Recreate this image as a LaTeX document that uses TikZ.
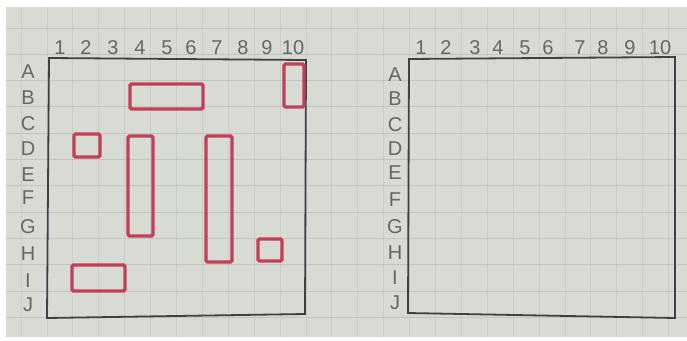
\documentclass[tikz,border=0pt]{standalone}
\usepackage{fontspec}
\setmainfont{Liberation Sans}
\definecolor{paper}{RGB}{216,218,212}
\definecolor{paperhline}{RGB}{194,196,191}
\definecolor{papervline}{RGB}{203,205,200}
\definecolor{ink}{RGB}{62,64,68}
\definecolor{shipred}{RGB}{196,62,86}
\tikzset{
  frameline/.style={draw=ink, line width=1.8pt},
  ship/.style={draw=shipred, line width=3.4pt, rounded corners=1.5pt},
  lab/.style={text=ink!80, font=\fontsize{20}{20}\selectfont, inner sep=0pt, anchor=center},
  hgrid/.style={draw=paperhline, line width=0.9pt},
  vgrid/.style={draw=papervline, line width=0.9pt}
}
\begin{document}
\begin{tikzpicture}[x=1pt,y=-1pt]
\useasboundingbox (0,0) rectangle (687,340);
\fill[white] (0,0) rectangle (687,340);
\fill[paper] (6,7) rectangle (687,337);
% paper grid
\begin{scope}
\clip (6,7) rectangle (687,337);
\foreach \k in {-2,...,25} {
  \draw[vgrid] ({47+25.9*\k},7) -- ({47+25.9*\k},337);
}
\foreach \k in {-1,...,12} {
  \draw[hgrid] (6,{28+26.3*\k}) -- (687,{28+26.3*\k});
}
\end{scope}
% left board frame
\draw[frameline] (49,58) -- (306,60) -- (305,314) -- (47,318) -- cycle;
% right board frame
\draw[frameline] (409,59) -- (675,57) -- (675,318) -- (408,313) -- cycle;
% left column numbers
\foreach \n/\x in {1/60,2/86,3/113,4/140,5/167,6/191,7/217,8/243,9/267,10/293} {
  \node[lab] (ln\n) at (\x,48) {\n};
}
% left row letters
\foreach \l/\y in {A/72,B/98,C/124,D/149,E/175,F/198,G/227,H/254,I/281,J/305} {
  \node[lab] (ll\l) at (28,\y) {\l};
}
% right column numbers
\foreach \n/\x in {1/421,2/446,3/475,4/498,5/525,6/548,7/580,8/603,9/630,10/660} {
  \node[lab] (rn\n) at (\x,48) {\n};
}
% right row letters
\foreach \l/\y in {A/75,B/99,C/125,D/149,E/173,F/200,G/227,H/253,I/278,J/303} {
  \node[lab] (rl\l) at (395,\y) {\l};
}
% ships
\draw[ship] (284,64) rectangle (304,107);
\draw[ship] (130,84) rectangle (203,109);
\draw[ship] (74,134) rectangle (100,157);
\draw[ship] (128,136) rectangle (153,236);
\draw[ship] (206,136) rectangle (232,262);
\draw[ship] (258,239) rectangle (282,261);
\draw[ship] (72,265) rectangle (125,291);
\end{tikzpicture}
\end{document}
